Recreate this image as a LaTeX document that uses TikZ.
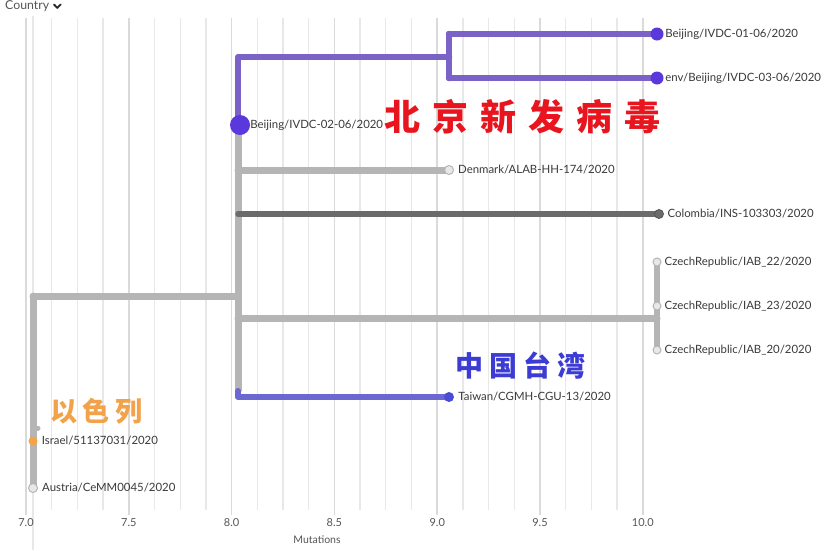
\documentclass[tikz,border=0pt]{standalone}
\usepackage{fontspec}
\setmainfont{Lato}
\newfontfamily\cjk{Noto Sans CJK SC}
\definecolor{gridc}{HTML}{E8E8E8}
\definecolor{tickc}{HTML}{DADADA}
\definecolor{txtc}{HTML}{3A3A3A}
\definecolor{axc}{HTML}{555555}
\definecolor{brgray}{HTML}{B5B5B5}
\definecolor{brdark}{HTML}{6B6B6B}
\definecolor{brpurple}{HTML}{7B62C6}
\definecolor{dotpurple}{HTML}{5A38DC}
\definecolor{brblue}{HTML}{6C68D2}
\definecolor{dotblue}{HTML}{4B4BDA}
\definecolor{orangedot}{HTML}{F4A445}
\definecolor{orangetxt}{HTML}{F1A24A}
\definecolor{bluetxt}{HTML}{3C3CD4}
\definecolor{redtxt}{HTML}{E8141E}
\begin{document}
\begin{tikzpicture}[x=1pt,y=-1pt,
  gridline/.style={gridc, line width=1.3pt},
  tickline/.style={tickc, line width=1.5pt},
  axlab/.style={text=axc, font=\fontsize{11}{13}\selectfont, inner sep=0pt},
  branch/.style={line width=7pt, line join=round, line cap=round},
  tipdot/.style={circle, inner sep=0pt, minimum size=#1},
  tiplab/.style={text=txtc, font=\fontsize{11.4}{13}\selectfont, inner sep=0pt, anchor=west},
  bigcjk/.style={inner sep=0pt, anchor=west}
]
\useasboundingbox (0,0) rectangle (829,550);
\fill[white] (0,0) rectangle (829,550);
% grid
\foreach \k in {0,...,24} \draw[gridline] ({26+\k*25.7},18) -- ({26+\k*25.7},510);
\draw[gridc, line width=1.2pt] (33,16) -- (33,550);
\foreach \k/\l in {0/7.0,4/7.5,8/8.0,12/8.5,16/9.0,20/9.5,24/10.0} {
  \draw[tickline] ({26+\k*25.7},18) -- ({26+\k*25.7},515);
  \node[axlab] (ax\k) at ({26+\k*25.7},523) {\l};
}
\node[axlab, font=\fontsize{10.5}{12}\selectfont] (mut) at (317,540) {Mutations};
% Country header
\node[text=axc, font=\fontsize{12.3}{14}\selectfont, inner sep=0pt, anchor=west] (country) at (5,6) {Country};
\coordinate (chev) at ([xshift=8pt]country.east);
\draw[black!85, line width=1.8pt, line cap=round, line join=round] ([xshift=-3.4pt,yshift=1.6pt]chev) -- ([yshift=-1.9pt]chev) -- ([xshift=3.4pt,yshift=1.6pt]chev);

% coordinates of tree
\coordinate (root) at (33,296);
\coordinate (n8t) at (238,57);
\coordinate (n8) at (238,296);
\coordinate (n8b) at (238,397);
\coordinate (n9) at (449,57);
\coordinate (aus) at (33,488);
\coordinate (isr) at (33,441);
\coordinate (stub) at (38,428);
\coordinate (czv) at (657,318);

% gray backbone
\draw[branch, brgray] (root) -- (n8);
\draw[branch, brgray] (aus) -- (33,296);
\draw[brgray, line width=5pt, line cap=round] (33,428) -- (stub);
\draw[branch, brgray] (238,125) -- (238,390);
\draw[branch, brgray] (238,170) -- (449,170);
\draw[branch, brgray] (238,318) -- (czv);
\draw[brgray, line width=5.5pt, line cap=round] (657,262) -- (657,350);
\draw[brdark, line width=5.5pt, line cap=round] (238,214) -- (659,214);
% purple Beijing clade
\draw[branch, brpurple, line width=6.5pt] (238,125) -- (n8t) -- (n9);
\draw[branch, brpurple, line width=6.5pt] (449,34) -- (449,78);
\draw[branch, brpurple, line width=6.5pt] (449,34) -- (657,34);
\draw[branch, brpurple, line width=6.5pt] (449,78) -- (657,78);
% Taiwan
\draw[branch, brblue, line width=6pt] (238,391) -- (n8b) -- (449,397);

% tips
\node[tipdot=20pt, fill=dotpurple] (b2) at (240,125) {};
\node[tipdot=13pt, fill=dotpurple] (b1) at (657,34) {};
\node[tipdot=13pt, fill=dotpurple] (b3) at (657,78) {};
\node[tipdot=9pt, fill=gridc, draw=brgray, line width=1pt] (dk) at (449,170) {};
\node[tipdot=9pt, fill=brdark, draw=brdark!80!black, line width=0.8pt] (co) at (659,214) {};
\node[tipdot=8pt, fill=gridc, draw=brgray, line width=1pt] (cz1) at (657,262) {};
\node[tipdot=8pt, fill=gridc, draw=brgray, line width=1pt] (cz2) at (657,306) {};
\node[tipdot=8pt, fill=gridc, draw=brgray, line width=1pt] (cz3) at (657,350) {};
\node[tipdot=10pt, fill=dotblue] (tw) at (449,397) {};
\node[tipdot=9pt, fill=orangedot] (is) at (isr) {};
\node[tipdot=9pt, fill=gridc, draw=brgray, line width=1pt] (au) at (aus) {};

% tip labels
\node[tiplab] (lb1) at ([xshift=1.5pt]b1.east) {Beijing/IVDC-01-06/2020};
\node[tiplab] (lb3) at ([xshift=1.5pt]b3.east) {env/Beijing/IVDC-03-06/2020};
\node[tiplab] (lb2) at ([xshift=0pt]b2.east) {Beijing/IVDC-02-06/2020};
\node[tiplab] (ldk) at ([xshift=4pt]dk.east) {Denmark/ALAB-HH-174/2020};
\node[tiplab] (lco) at ([xshift=3.5pt]co.east) {Colombia/INS-103303/2020};
\node[tiplab] (lcz1) at ([xshift=3pt]cz1.east) {CzechRepublic/IAB\_22/2020};
\node[tiplab] (lcz2) at ([xshift=3pt]cz2.east) {CzechRepublic/IAB\_23/2020};
\node[tiplab] (lcz3) at ([xshift=3pt]cz3.east) {CzechRepublic/IAB\_20/2020};
\node[tiplab] (ltw) at ([xshift=4pt]tw.east) {Taiwan/CGMH-CGU-13/2020};
\node[tiplab] (lis) at ([xshift=4pt]is.east) {Israel/51137031/2020};
\node[tiplab] (lau) at ([xshift=4pt]au.east) {Austria/CeMM0045/2020};

% big annotations
\node[bigcjk, text=redtxt, font=\cjk\bfseries\fontsize{36}{40}\selectfont] (bj) at (384,117)
  {北\hspace{12pt}京\hspace{12pt}新\hspace{12pt}发\hspace{12pt}病\hspace{12pt}毒};
\node[bigcjk, text=bluetxt, font=\cjk\bfseries\fontsize{28}{32}\selectfont] (zg) at (455,366)
  {中\hspace{6pt}国\hspace{6pt}台\hspace{6pt}湾};
\node[bigcjk, text=orangetxt, font=\cjk\bfseries\fontsize{27}{30}\selectfont] (yl) at (50,411)
  {以\hspace{5.5pt}色\hspace{5.5pt}列};
\end{tikzpicture}
\end{document}
